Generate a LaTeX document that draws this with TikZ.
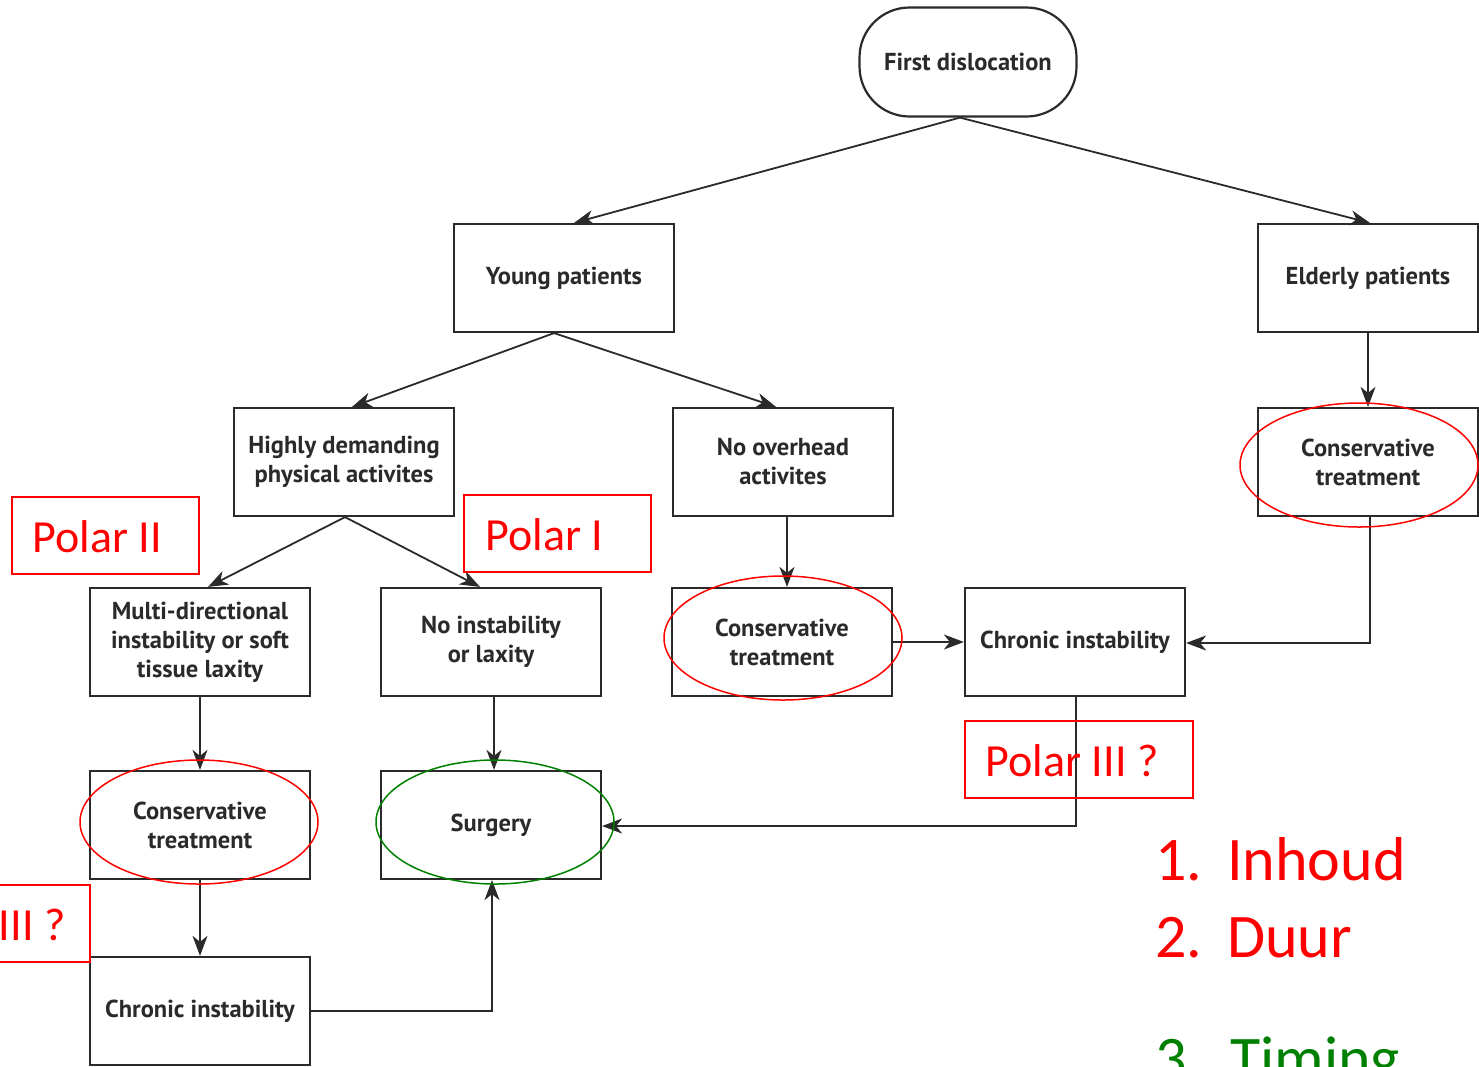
\documentclass[tikz,border=0pt]{standalone}
\usepackage{fontspec}
\setmainfont{PT Sans}
\newfontfamily\calib{Carlito}
\usetikzlibrary{arrows.meta,calc}
\definecolor{ln}{HTML}{2A2A2A}
\definecolor{pred}{HTML}{FF0000}
\definecolor{pgreen}{HTML}{008000}
\tikzset{
  box/.style={draw=ln, line width=2.2pt, minimum width=220pt, minimum height=108pt, inner sep=0pt, align=center, font=\fontsize{24.5}{29}\selectfont\bfseries, text=ln},
  arr/.style={draw=ln, line width=1.8pt, -{Stealth[length=20pt,width=15pt,inset=6pt]}},
  redel/.style={draw=pred, line width=1.5pt},
  greel/.style={draw=pgreen, line width=1.5pt},
  redbox/.style={draw=pred, line width=1.5pt, inner sep=0pt, text=pred, font=\calib\fontsize{46}{50}\selectfont},
  listtxt/.style={font=\calib\fontsize{62}{66}\selectfont, anchor=base west, inner sep=0pt},
}
\begin{document}
\begin{tikzpicture}[x=1pt,y=-1pt]
\useasboundingbox (0,0) rectangle (1479,1066);
% nodes
\node[box, rounded corners=50pt, minimum width=217pt, minimum height=109pt] (fd) at (968,62) {First dislocation};
\node[box] (yp) at (564,278) {Young patients};
\node[box] (ep) at (1368,278) {Elderly patients};
\node[box] (hd) at (344,462) {Highly demanding\\physical activites};
\node[box] (no) at (783,462) {No overhead\\activites};
\node[box] (ce) at (1368,462) {Conservative\\treatment};
\node[box] (md) at (200,642) {Multi-directional\\instability or soft\\tissue laxity};
\node[box] (ni) at (491,642) {No instability\\or laxity};
\node[box] (cm) at (782,642) {Conservative\\treatment};
\node[box] (cr) at (1075,642) {Chronic instability};
\node[box] (cl) at (200,825) {Conservative\\treatment};
\node[box] (su) at (491,825) {Surgery};
\node[box] (cb) at (200,1011) {Chronic instability};
% connectors
\draw[arr] ($(fd.south)+(-8,0)$) -- ($(yp.north)+(10,0)$);
\draw[arr] ($(fd.south)+(-8,0)$) -- ($(ep.north)+(2,0)$);
\draw[arr] ($(yp.south)+(-10,0)$) -- ($(hd.north)+(8,0)$);
\draw[arr] ($(yp.south)+(-10,0)$) -- ($(no.north)+(-7,0)$);
\draw[arr] ($(hd.south)+(1,0)$) -- ($(md.north)+(8,0)$);
\draw[arr] ($(hd.south)+(1,0)$) -- ($(ni.north)+(-11,0)$);
\draw[arr] ($(no.south)+(4,0)$) -- ($(cm.north)+(5,0)$);
\draw[arr] (ep.south) -- (ce.north);
\draw[arr] (cm.east) -- (cr.west);
\coordinate (k1) at (1370,643);
\draw[arr] ($(ce.south)+(2,0)$) -- (k1) -- ($(cr.east)+(0,1)$);
\coordinate (k2) at (1076,826);
\draw[arr] ($(cr.south)+(1,0)$) -- (k2) -- ($(su.east)+(0,1)$);
\draw[arr] (md.south) -- (cl.north);
\draw[arr] ($(ni.south)+(3,0)$) -- ($(su.north)+(3,0)$);
\draw[arr] (cl.south) -- (cb.north);
\coordinate (k3) at (492,1011);
\draw[arr] (cb.east) -- (k3) -- ($(su.south)+(1,0)$);
% ellipses
\draw[redel] (1359,465) ellipse [x radius=119, y radius=62];
\draw[redel] (783,638) ellipse [x radius=119, y radius=62];
\draw[redel] (199,822) ellipse [x radius=119, y radius=62];
\draw[greel] (495,822) ellipse [x radius=119, y radius=62];
% red label boxes
\draw[redbox] (12,497) rectangle (199,574);
\node[redbox, draw=none, anchor=west] (p2) at (32,537) {Polar II};
\draw[redbox] (464,495) rectangle (651,572);
\node[redbox, draw=none, anchor=west] (p1) at (485,535) {Polar I};
\draw[redbox] (965,721) rectangle (1193,798);
\node[redbox, draw=none, anchor=west] (p3) at (985,761) {Polar III ?};
\draw[redbox] (-138,885) rectangle (90,962);
\node[redbox, draw=none, anchor=west] (p3b) at (-108,925) {Polar III ?};
% list
\node[listtxt, text=pred] (l1n) at (1155,880) {1.};
\node[listtxt, text=pred] (l1) at (1227,880) {Inhoud};
\node[listtxt, text=pred] (l2n) at (1155,957) {2.};
\node[listtxt, text=pred] (l2) at (1227,957) {Duur};
\node[listtxt, text=pgreen] (l3n) at (1155,1079) {3.};
\node[listtxt, text=pgreen] (l3) at (1230,1079) {Timing};
\end{tikzpicture}
\end{document}
